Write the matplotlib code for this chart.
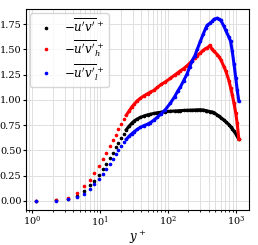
import numpy as np
import matplotlib.pyplot as plt

# Dados: y+ e tensão de Reynolds (total, alta e baixa frequência)
yplus = [1.12, 2.25, 3.37, 4.54, 5.82, 6.97, 8.18, 9.6, 11.0, 12.3, 13.8, 15.5, 16.9,
         18.5, 20.3, 22.2, 24.3, 26.7, 29.3, 32, 35, 39, 44, 50, 55, 62, 70, 80, 92,
         109, 125, 140, 153, 170, 192, 210, 228, 250, 270, 300, 330, 360, 380, 416,
         450, 478, 535, 565, 600, 670, 710, 795, 840, 890, 940, 1000, 1050, 1110]

uv_total = [0.0, 0.004, 0.02, 0.05, 0.10, 0.152, 0.20, 0.257, 0.314, 0.363, 0.423, 0.478,
            0.53, 0.577, 0.62, 0.665, 0.705, 0.74, 0.77, 0.793, 0.81, 0.826, 0.84,
            0.852, 0.858, 0.866, 0.873, 0.879, 0.884, 0.888, 0.89, 0.892, 0.894, 0.896,
            0.897, 0.898, 0.899, 0.90, 0.902, 0.903, 0.90, 0.895, 0.89, 0.885, 0.88,
            0.875, 0.85, 0.84, 0.825, 0.80, 0.785, 0.755, 0.735, 0.715, 0.69, 0.665,
            0.64, 0.61]

uv_high = [0.0, 0.005, 0.025, 0.08, 0.15, 0.21, 0.275, 0.345, 0.41, 0.475, 0.54, 0.60,
           0.655, 0.71, 0.765, 0.81, 0.85, 0.89, 0.93, 0.96, 0.99, 1.015, 1.04, 1.062,
           1.078, 1.095, 1.125, 1.155, 1.18, 1.215, 1.245, 1.27, 1.29, 1.31, 1.34, 1.365,
           1.39, 1.42, 1.44, 1.465, 1.49, 1.51, 1.515, 1.54, 1.50, 1.48, 1.45, 1.43,
           1.40, 1.33, 1.29, 1.19, 1.12, 1.05, 0.97, 0.87, 0.77, 0.61]

uv_low = [0.0, 0.003, 0.015, 0.04, 0.07, 0.115, 0.165, 0.215, 0.265, 0.315, 0.365, 0.415,
          0.46, 0.505, 0.545, 0.58, 0.61, 0.64, 0.665, 0.687, 0.707, 0.727, 0.745, 0.76,
          0.775, 0.80, 0.83, 0.865, 0.905, 0.97, 1.03, 1.09, 1.13, 1.19, 1.26, 1.33,
          1.39, 1.44, 1.50, 1.58, 1.65, 1.71, 1.74, 1.76, 1.78, 1.80, 1.81, 1.80, 1.79,
          1.73, 1.69, 1.62, 1.58, 1.48, 1.36, 1.22, 1.10, 0.99]

labels = [r"$-\overline{u'v'}^+$", r"$-\overline{u'v'}_h^+$", r"$-\overline{u'v'}_l^+$"]
cores = ['k', 'r', 'b']

plt.rcParams['font.family'] = 'DejaVu Serif'
plt.rcParams['mathtext.fontset'] = 'dejavuserif'

fig = plt.figure(figsize=(2.58, 2.45), dpi=100)
ax = fig.add_axes([0.099, 0.143, 0.866, 0.82])

yp = np.array(yplus)
denso = yp >= 24

for serie, cor, lab in zip([uv_total, uv_high, uv_low], cores, labels):
    v = np.array(serie)
    # pontos perto da parede aparecem separados
    ax.plot(yp, v, '.', color=cor, ms=3.2, label=lab)
    # na região externa os pontos ficam tão juntos que parecem uma linha
    ax.plot(yp[denso], v[denso], '-', color=cor, lw=2.2)

ax.set_xscale('log')
ax.set_xlabel(r'$y^+$', fontsize=8.5, labelpad=0)
ax.tick_params(labelsize=7, pad=1, length=2)
ax.tick_params(which='minor', length=1.2)
ax.set_yticks([0.0, 0.25, 0.5, 0.75, 1.0, 1.25, 1.5, 1.75])
ax.grid(True, which='both', color='#e0e0e0', lw=0.7)
ax.set_axisbelow(True)

ax.legend(loc='upper left', fontsize=8.5, markerscale=1.0, handlelength=2.0,
          borderaxespad=0.35, labelspacing=0.25, handletextpad=0.5,
          borderpad=0.4)

plt.savefig('out.png', dpi=100)
